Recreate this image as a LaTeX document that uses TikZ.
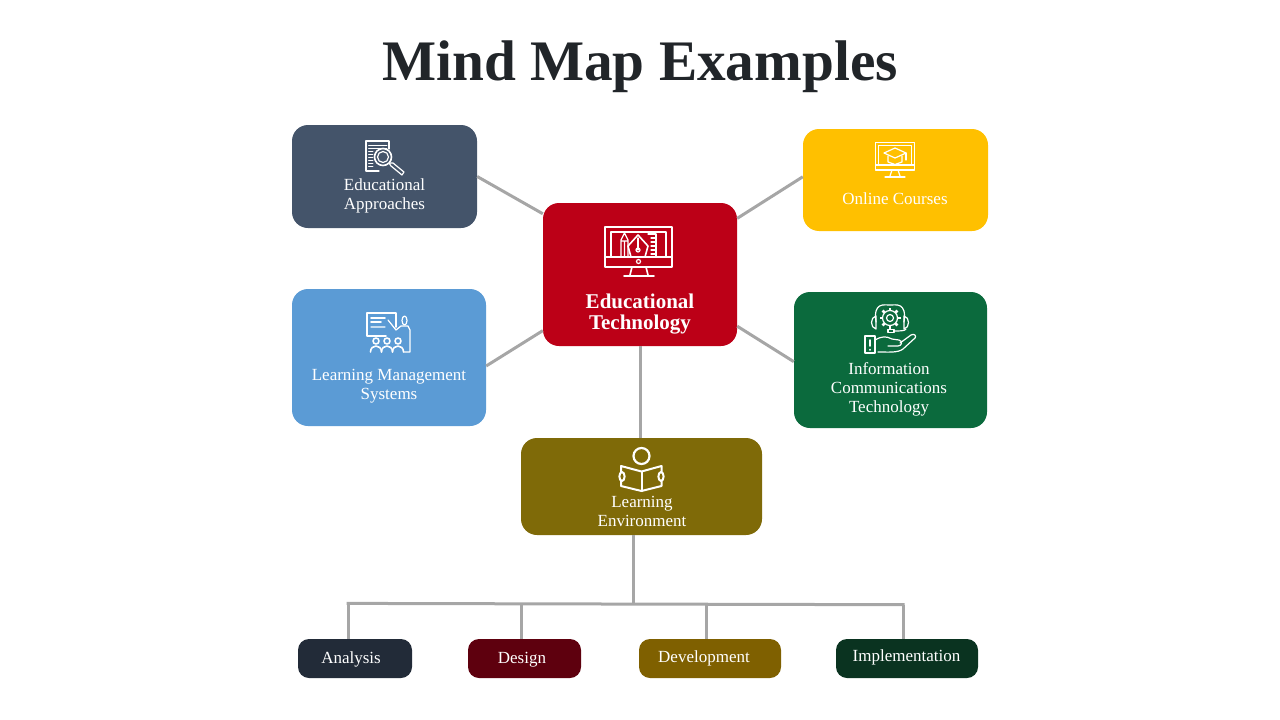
\documentclass[tikz,border=0pt]{standalone}
\usepackage{fontspec}
\setmainfont{Liberation Serif}
\usepackage{xcolor}
\usetikzlibrary{arrows.meta,calc}
\definecolor{inkdark}{HTML}{212529}
\definecolor{linkgray}{HTML}{A6A6A6}
\definecolor{slatebox}{HTML}{44546A}
\definecolor{redbox}{HTML}{BC0017}
\definecolor{yellowbox}{HTML}{FFC000}
\definecolor{bluebox}{HTML}{5B9BD5}
\definecolor{greenbox}{HTML}{0B6A3D}
\definecolor{olivebox}{HTML}{7F6A08}
\definecolor{navyleaf}{HTML}{222B38}
\definecolor{maroonleaf}{HTML}{5E000E}
\definecolor{brownleaf}{HTML}{7F6000}
\definecolor{pineleaf}{HTML}{0A3320}
\tikzset{
  topicbox/.style={rounded corners=16pt,inner sep=0pt},
  leafbox/.style={rounded corners=11pt,inner sep=0pt},
  link/.style={draw=linkgray,line width=3pt},
  boxtext/.style={text=white,align=center,inner sep=0pt,font=\fontsize{17}{19}\selectfont},
  icon/.style={draw=white,line width=1.6pt,line join=round,line cap=round},
  iconthin/.style={draw=white,line width=1.2pt,line join=round,line cap=round}
}
\begin{document}
\begin{tikzpicture}[x=1pt,y=-1pt]
  \useasboundingbox (0,0) rectangle (1280,720);
  \node[text=inkdark,inner sep=0pt,font=\fontsize{57.3}{60}\selectfont\bfseries] (title) at (640,67) {Mind Map Examples};

  % topic boxes
  \node[topicbox,fill=redbox,minimum width=194pt,minimum height=143pt] (main) at (640,274.5) {};
  \node[topicbox,fill=slatebox,minimum width=185pt,minimum height=103pt] (appr) at (384.5,176.5) {};
  \node[topicbox,fill=yellowbox,minimum width=185pt,minimum height=102pt] (online) at (895.5,180) {};
  \node[topicbox,fill=bluebox,minimum width=194pt,minimum height=137pt] (lms) at (389,357.5) {};
  \node[topicbox,fill=greenbox,minimum width=193pt,minimum height=136pt] (ict) at (890.5,360) {};
  \node[topicbox,fill=olivebox,minimum width=241pt,minimum height=97pt] (env) at (641.5,486.5) {};

  % leaf boxes
  \node[leafbox,fill=navyleaf,minimum width=114pt,minimum height=39pt] (analysis) at (355,658.5) {};
  \node[leafbox,fill=maroonleaf,minimum width=113pt,minimum height=39pt] (design) at (524.5,658.5) {};
  \node[leafbox,fill=brownleaf,minimum width=142pt,minimum height=39pt] (devel) at (710,658.5) {};
  \node[leafbox,fill=pineleaf,minimum width=142pt,minimum height=39pt] (impl) at (907,658.5) {};

  % links to the centre
  \draw[link] (appr.east) -- (main.148.5);
  \draw[link] (online.178.8) -- (main.30.7);
  \draw[link] (lms.-5.6) -- (main.210.7);
  \draw[link] (ict.181.2) -- (main.-28.9);
  \draw[link] ([xshift=0.5pt]main.south) -- ([xshift=-1pt]env.north);

  % tree under the environment box
  \coordinate (busleft) at (348,603.4);
  \coordinate (busright) at (903,604.7);
  \coordinate (busmid) at (633,604);
  \draw[link] ([xshift=-8.5pt]env.south) -- (busmid);
  \draw[link,line cap=rect] (busleft) -- (busright);
  \draw[link] (busleft) -- (busleft |- analysis.north);
  \draw[link] ([xshift=-3.5pt]design.north) -- ++(0,-35);
  \draw[link] ([xshift=-4pt]devel.north) -- ++(0,-35);
  \draw[link] (busright) -- (busright |- impl.north);

  % labels
  \node[boxtext] (apprtext) at (384.5,196) {Educational\\Approaches};
  \node[boxtext] (onlinetext) at (895,199) {Online Courses};
  \node[boxtext] (lmstext) at (389,386) {Learning Management\\Systems};
  \node[boxtext] (icttext) at (889,389.5) {Information\\Communications\\Technology};
  \node[boxtext] (envtext) at (642,511) {Learning\\Environment};
  \node[boxtext,font=\fontsize{21}{21}\selectfont\bfseries,text=white] (maintext) at (640,314) {Educational\\Technology};
  \node[boxtext] (analysistext) at (351,659.5) {Analysis};
  \node[boxtext] (designtext) at (522,659.5) {Design};
  \node[boxtext] (develtext) at (704,658.5) {Development};
  \node[boxtext] (impltext) at (906.5,657.5) {Implementation};

  % icon: document and lens
  \draw[iconthin] (389,149) -- (389,141) -- (366,141) -- (366,171) -- (379,171);
  \foreach \y in {145,148,151,154,157,160,163,166}
    \draw[iconthin,line width=0.9pt] (368.5,\y) -- (\ifnum\y<149 387\else 373\fi,\y);
  \draw[icon] (383,157) circle[radius=8.5];
  \draw[iconthin] (383,157) circle[radius=5.5];
  \draw[iconthin] (389,163) -- (393,163) -- (404,172) -- (402,175) -- (391,166) -- cycle;

  % icon: monitor with drawing tools
  \draw[icon] (605,227) rectangle (672,267);
  \draw[iconthin] (611,232) rectangle (666,257);
  \draw[icon] (605,257) -- (672,257);
  \draw[iconthin] (638.5,261.5) circle[radius=2];
  \draw[icon] (632,267) -- (630,275) (646,267) -- (648,275) (624,276) -- (654,276);
  \draw[iconthin] (621,257) -- (621,240) -- (624.5,233) -- (628,240) -- (628,257) (621,241) -- (628,241) (624.5,241) -- (624.5,257);
  \draw[icon] (631,257) -- (628,246) -- (638,235) -- (648,246) -- (645,257);
  \draw[iconthin] (638,238) -- (638,250);
  \draw[iconthin] (638,250) circle[radius=2];
  \draw[iconthin] (648,234) -- (656,234) -- (656,257) -- (648,257);
  \foreach \y in {238,242,246,250,254}
    \draw[iconthin] (651,\y) -- (656,\y);

  % icon: monitor with cap
  \draw[icon] (875.5,142.5) rectangle (914.5,170);
  \draw[iconthin] (878.5,145.5) rectangle (911.5,165);
  \draw[iconthin] (875.5,165) -- (914.5,165);
  \draw[iconthin] (892,170) -- (890,176) (898,170) -- (900,176);
  \draw[iconthin] (885,177) -- (905,177);
  \draw[iconthin] (884,153) -- (895,148) -- (906,153) -- (895,158) -- cycle;
  \draw[iconthin] (888,156) -- (888,162) -- (895,164.5) -- (902,162) -- (902,156);
  \draw[iconthin] (906,153) -- (906,160);

  % icon: headset gear and hand
  \foreach \a in {0,45,...,315}
    \draw[icon,line width=2.8pt,line cap=butt] ($(890,318)+(\a:7.5)$) -- ($(890,318)+(\a:10.5)$);
  \draw[iconthin] (890,318) circle[radius=7.5];
  \draw[iconthin] (890,318) circle[radius=3.5];
  \draw[iconthin] (876,322) .. controls (873,302) and (884,305) .. (890,305) .. controls (896,305) and (907,302) .. (904,322);
  \draw[iconthin] (876,316) .. controls (870,317) and (870,328) .. (876,329) -- cycle;
  \draw[iconthin] (904,316) .. controls (910,317) and (910,328) .. (904,329) -- cycle;
  \draw[iconthin] (906,329) .. controls (905,331) and (900,331) .. (894,331);
  \draw[iconthin] (888,329.5) rectangle (894,332.5);
  \draw[icon] (865,336) rectangle (875,353);
  \draw[icon] (870,340) -- (870,346) (870,349.5) -- (870,350);
  \draw[iconthin] (875,340) .. controls (882,336) and (886,336) .. (892,339) -- (899,340) .. controls (903,341) and (902,346) .. (898,346) -- (888,346);
  \draw[iconthin] (900,343) -- (911,335) .. controls (914,333) and (917,336) .. (915,338) -- (903,349) .. controls (898,353) and (888,352) .. (878,352);

  % icon: teacher and audience
  \draw[icon] (396,327) -- (396,313) -- (367,313) -- (367,336) -- (386,336);
  \draw[icon] (371,318) -- (385,318) (371,322) -- (381,322);
  \draw[iconthin] (371,327) -- (385,327) (388,320) -- (396,330);
  \draw[iconthin] (404.5,320.5) ellipse[x radius=2.5,y radius=4.5];
  \draw[iconthin] (396,330) -- (401,326) -- (408,326) -- (410,330) -- (410,352) -- (404,352);
  \foreach \x in {376,387,398}{
    \draw[icon] (\x,341) circle[radius=3];
    \draw[icon] (\x-5.5,352) .. controls (\x-5.5,344) and (\x+5.5,344) .. (\x+5.5,352);
  }

  % icon: reader with book
  \draw[icon,line width=2.2pt] (641.5,456) circle[radius=8];
  \draw[icon,line width=2pt] (621,466) -- (641.5,471.5) -- (661.5,466) -- (661.5,486) -- (641.5,491) -- (621,486) -- cycle;
  \draw[icon,line width=2pt] (641.5,471.5) -- (641.5,491);
  \draw[icon,line width=2pt,fill=olivebox] (622,476.5) ellipse[x radius=2.6,y radius=4.5];
  \draw[icon,line width=2pt,fill=olivebox] (661,476.5) ellipse[x radius=2.6,y radius=4.5];
\end{tikzpicture}
\end{document}
